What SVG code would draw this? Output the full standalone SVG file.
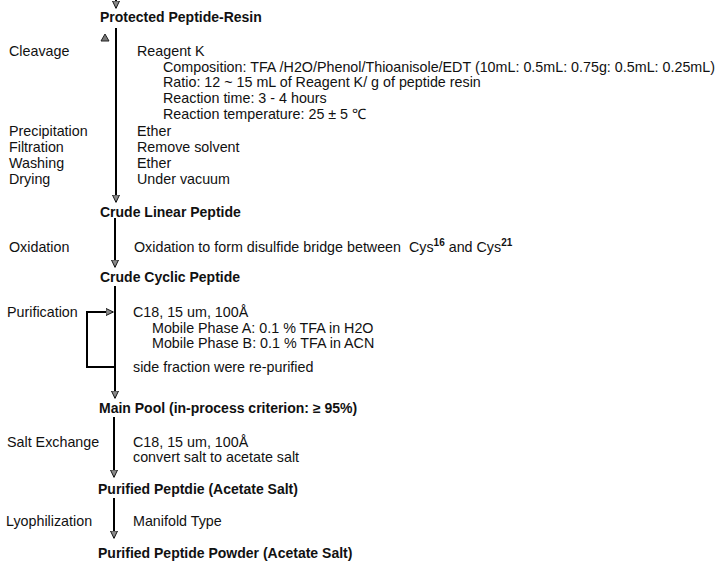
<svg xmlns="http://www.w3.org/2000/svg" width="718" height="561" viewBox="0 0 718 561">
<style>
text{font-family:"Liberation Sans",Arial,sans-serif;font-size:14.3px;fill:#111}
.b{font-weight:bold;font-size:14px}
.ln{stroke:#000;stroke-width:2;fill:none}
.sup{font-size:10px;font-weight:bold}
</style>
<defs>
<marker id="ah" viewBox="0 0 10 10" refX="9" refY="5" markerWidth="8" markerHeight="8" markerUnits="userSpaceOnUse" orient="auto">
<path d="M0,0.5 L9.5,5 L0,9.5 z" fill="#8a8a8a" stroke="#111" stroke-width="1.2"/>
</marker>
</defs>
<rect width="718" height="561" fill="#fff"/>
<g id="connectors">
<line class="ln" x1="116" y1="0" x2="116" y2="8" marker-end="url(#ah)"/>
<line class="ln" x1="116" y1="28" x2="116" y2="202" marker-end="url(#ah)"/>
<line class="ln" x1="115" y1="218" x2="115" y2="267" marker-end="url(#ah)"/>
<line class="ln" x1="115" y1="286" x2="115" y2="398" marker-end="url(#ah)"/>
<path class="ln" d="M115,367 H87 V312 H113" marker-end="url(#ah)" stroke-width="1.6"/>
<line class="ln" x1="114" y1="417" x2="114" y2="477" marker-end="url(#ah)"/>
<line class="ln" x1="114" y1="498" x2="114" y2="538" marker-end="url(#ah)"/>
<polygon points="101,41 105,34 109,41" fill="#777" stroke="#222" stroke-width="1"/>
</g>
<g id="node-protected"><text class="b" x="100" y="22">Protected Peptide-Resin</text></g>
<g id="step-cleavage">
<text x="9" y="56">Cleavage</text>
<text x="137" y="56">Reagent K</text>
<text x="163" y="72" textLength="552">Composition: TFA /H2O/Phenol/Thioanisole/EDT (10mL: 0.5mL: 0.75g: 0.5mL: 0.25mL)</text>
<text x="163" y="87">Ratio: 12 ~ 15 mL of Reagent K/ g of peptide resin</text>
<text x="163" y="103">Reaction time: 3 - 4 hours</text>
<text x="163" y="119">Reaction temperature: 25 ± 5 ℃</text>
<text x="9" y="136">Precipitation</text>
<text x="137" y="136">Ether</text>
<text x="9" y="152">Filtration</text>
<text x="137" y="152">Remove solvent</text>
<text x="9" y="168">Washing</text>
<text x="137" y="168">Ether</text>
<text x="9" y="184">Drying</text>
<text x="137" y="184">Under vacuum</text>
</g>
<g id="node-crude-linear"><text class="b" x="100" y="217">Crude Linear Peptide</text></g>
<g id="step-oxidation">
<text x="9" y="252">Oxidation</text>
<text x="134" y="252" xml:space="preserve">Oxidation to form disulfide bridge between  Cys<tspan class="sup" dy="-6">16</tspan><tspan dy="6"> and Cys</tspan><tspan class="sup" dy="-6">21</tspan></text>
</g>
<g id="node-crude-cyclic"><text class="b" x="100" y="282">Crude Cyclic Peptide</text></g>
<g id="step-purification">
<text x="7" y="317">Purification</text>
<text x="133" y="317">C18, 15 um, 100Å</text>
<text x="152" y="333">Mobile Phase A: 0.1 % TFA in H2O</text>
<text x="152" y="348">Mobile Phase B: 0.1 % TFA in ACN</text>
<text x="133" y="372">side fraction were re-purified</text>
</g>
<g id="node-main-pool"><text class="b" x="99" y="413">Main Pool (in-process criterion: ≥ 95%)</text></g>
<g id="step-salt">
<text x="7" y="447">Salt Exchange</text>
<text x="133" y="447">C18, 15 um, 100Å</text>
<text x="133" y="462">convert salt to acetate salt</text>
</g>
<g id="node-purified"><text class="b" x="98" y="494">Purified Peptdie (Acetate Salt)</text></g>
<g id="step-lyo">
<text x="6" y="526">Lyophilization</text>
<text x="133" y="526">Manifold Type</text>
</g>
<g id="node-powder"><text class="b" x="98" y="558">Purified Peptide Powder (Acetate Salt)</text></g>
</svg>
